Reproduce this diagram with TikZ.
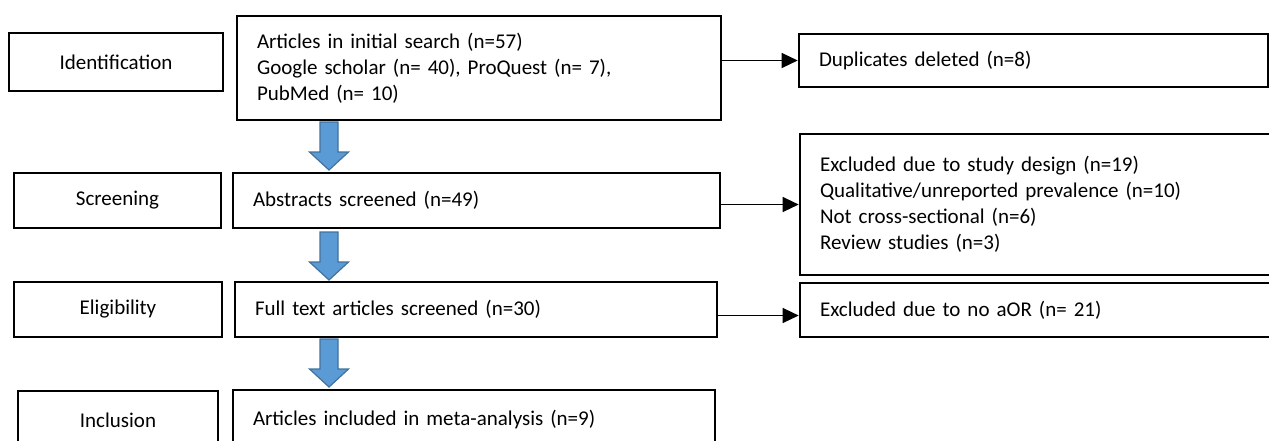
\documentclass[tikz,border=0pt]{standalone}
\usepackage{fontspec}
\setmainfont{Carlito}
\usepackage{xcolor}
\usetikzlibrary{arrows.meta,positioning,calc}
\definecolor{flowblue}{HTML}{5B9BD5}
\definecolor{flowblueedge}{HTML}{41719C}

\begin{document}
\begin{tikzpicture}[x=1pt,y=-1pt,
  font=\fontsize{21}{26}\selectfont,
  stagebox/.style={draw=black, line width=2.6pt, inner sep=0pt, align=center},
  infobox/.style={draw=black, line width=2.6pt, inner xsep=20pt, inner ysep=0pt, align=left},
  thinarrow/.style={-{Triangle[length=16pt,width=15pt]}, line width=1.2pt},
  bluearrow/.style={fill=flowblue, draw=flowblueedge, line width=1.2pt, line join=miter}]
  \useasboundingbox (0,0) rectangle (1269,440);
  % Stage labels (left column)
  \foreach \n/\t/\cx/\cy/\w/\h in {ident/Identification/116/62/214/58,
      screen/Screening/117.5/200.5/207/55, elig/Eligibility/118/309.5/208/55,
      incl/Inclusion/118/420.5/200/59}
    \node[stagebox, minimum width=\w pt, minimum height=\h pt] (\n) at (\cx,\cy) {\t};
  % Main flow boxes
  \node[infobox, text width=444pt, minimum height=104pt] (search) at (479,68)
    {Articles in initial search (n=57)\\Google scholar (n= 40), ProQuest (n= 7),\\PubMed (n= 10)};
  \node[infobox, text width=447pt, minimum height=55pt] (abstr) at (476.5,200.5) {Abstracts screened (n=49)};
  \node[infobox, text width=442pt, minimum height=55pt] (full) at (476,309.5) {Full text articles screened (n=30)};
  \node[infobox, text width=442pt, minimum height=60pt] (meta) at (474,420) {Articles included in meta-analysis (n=9)};
  % Excluded boxes (right column)
  \node[infobox, text width=429pt, minimum height=53pt] (dupl) at (1033.5,60.5) {Duplicates deleted (n=8)};
  \node[infobox, text width=445pt, minimum height=141pt] (excl) at (1042.5,204.5)
    {Excluded due to study design (n=19)\\Qualitative/unreported prevalence (n=10)\\Not cross-sectional (n=6)\\Review studies (n=3)};
  \node[infobox, text width=445pt, minimum height=54pt] (noaor) at (1042.5,310) {Excluded due to no aOR (n= 21)};
  % Side arrows
  \draw[thinarrow] (search.east |- dupl.west) -- (dupl.west);
  \draw[thinarrow] (abstr.east |- excl.west) -- (excl.west);
  \draw[thinarrow] ([yshift=-6pt]full.east) -- ([yshift=-6pt]full.east -| noaor.west);
  % Block arrows down the main flow
  \coordinate (a1) at (329,122);
  \coordinate (a2) at (329,232);
  \coordinate (a3) at (329,339);
  \foreach \c in {a1,a2,a3}
    \draw[bluearrow] (\c) ++(-9,0) -- ++(18,0) -- ++(0,30) -- ++(10.5,0)
      -- ++(-19.5,18) -- ++(-19.5,-18) -- ++(10.5,0) -- cycle;
\end{tikzpicture}
\end{document}
